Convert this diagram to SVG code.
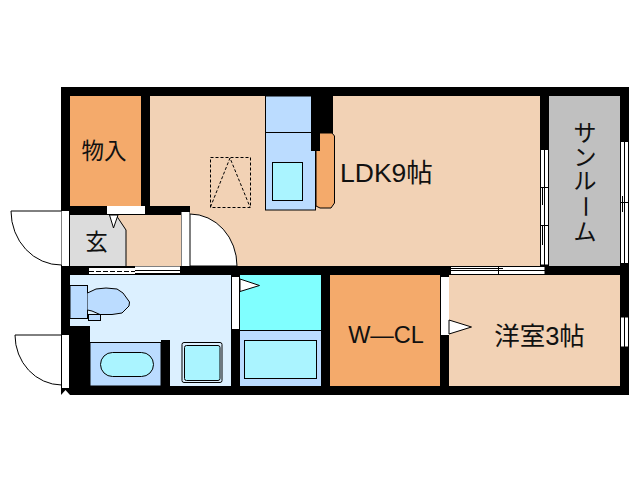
<svg xmlns="http://www.w3.org/2000/svg" width="638" height="480" viewBox="0 0 638 480">
<style>
text{font-family:"Liberation Sans","Noto Sans CJK JP",sans-serif;fill:#111}
.w{fill:#fff;stroke:#000;stroke-width:1}
.t{fill:#fff;stroke:#000;stroke-width:1}
.l{fill:none;stroke:#000;stroke-width:1}
.bl{fill:#bbdcff;stroke:#000;stroke-width:1}
.aq{fill:#aaf4ff;stroke:#000;stroke-width:1}
.d{fill:none;stroke:#000;stroke-width:1;stroke-dasharray:3 2}
</style>
<rect id="building" x="61" y="87" width="568" height="308" fill="#000"/>
<g id="room-storage"><rect x="70" y="96" width="71" height="110" fill="#f4aa6b"/><text x="104" y="159" font-size="22.500" text-anchor="middle">物入</text></g>
<g id="room-ldk">
<path d="M150 96H540V266H190V206H150Z" fill="#f2d2b5"/>
<path d="M190 214A47 52 0 0 1 237 266H190Z" class="w"/>
<rect x="265.500" y="96" width="50" height="114" class="bl"/>
<path d="M265 132.500H316" class="l"/>
<rect x="272.500" y="162.500" width="30" height="38" class="aq"/>
<path d="M316 133H332L334.500 136V203L331 208H320L316 206Z" fill="#f4aa6b" stroke="#000"/>
<path d="M311 96H333V133H320V151H311Z" fill="#000"/>
<rect x="210.500" y="157.500" width="40" height="50" class="d"/>
<path d="M210.500 207L230 158L250 207" class="d"/>
<text x="340" y="182" font-size="26.500">LDK9帖</text>
</g>
<g id="room-entry">
<rect x="70" y="215" width="57" height="51" fill="#dcdcdc"/>
<path d="M116 215H181V266H126V230Z" fill="#f2d2b5"/>
<path d="M116 215L126 230V266" class="l"/>
<rect x="107" y="206" width="38" height="8" fill="#fff"/>
<path d="M109.500 215L113.500 228L118 215Z" class="t"/>
<rect x="181.500" y="212" width="8" height="54" fill="#fff"/>
<text x="96.500" y="250" font-size="22.500" text-anchor="middle">玄</text>
<path d="M61.500 211H11A50 54 0 0 0 61.500 265" class="w"/>
<rect x="62" y="211" width="7" height="55" fill="#fff"/>
<rect x="89" y="268" width="46" height="6" fill="#fff"/>
<rect x="135" y="266.500" width="45" height="7.500" fill="#fff"/>
<path d="M89 271.500H135" fill="none" stroke="#000" stroke-dasharray="5 2"/>
<path d="M135 273.500H180M135 270.500H180" class="l"/>
</g>
<g id="room-bath">
<rect x="70" y="275" width="161" height="111" fill="#dcf0ff"/>
<rect x="70" y="326" width="20" height="60" fill="#000"/>
<rect x="70" y="285.500" width="17.500" height="33" class="bl"/>
<path d="M87.500 293L96 289L106 288L117 289L123 293L129.500 302L129 306L122 313L112 314.500H100L92 311L87.500 310" class="bl"/>
<rect x="88.500" y="314.500" width="12" height="6" class="bl"/>
<rect x="90" y="342.500" width="71" height="43.500" class="bl"/>
<rect x="100.500" y="352.500" width="53" height="24" rx="12" class="aq"/>
<rect x="161" y="340" width="9" height="46" fill="#000"/>
<rect x="182" y="342.500" width="40" height="40" rx="2" class="l"/>
<rect x="184.500" y="345.500" width="35.500" height="35" rx="2" class="aq"/>
<rect x="232" y="277" width="7" height="52" fill="#fff"/>
<path d="M15 335H61.500V385A47 50 0 0 1 15 335Z" class="w"/>
<rect x="62" y="335" width="7" height="53" fill="#fff"/>
<path d="M61 395L65.500 390L70 395Z" fill="#fff"/>
</g>
<g id="room-laundry">
<rect x="240" y="275" width="81" height="55" fill="#80ffff"/>
<rect x="240" y="330.500" width="81" height="55.500" fill="#bbdcff"/>
<path d="M240 330.500H321" class="l"/>
<rect x="244.500" y="340.500" width="72" height="38" class="aq"/>
<path d="M240 279L259.500 285.500L240 291.500Z" class="t"/>
</g>
<g id="room-wcl"><rect x="330" y="275" width="110" height="111" fill="#f4aa6b"/><text x="386" y="342.500" font-size="23.500" text-anchor="middle">W—CL</text></g>
<g id="room-western">
<rect x="449" y="275" width="171" height="111" fill="#f2d2b5"/>
<rect x="441" y="277" width="8" height="58" fill="#fff"/>
<path d="M449 320L471.500 327L449 334Z" class="t"/>
<text x="539.500" y="344.500" font-size="25.500" text-anchor="middle">洋室3帖</text>
<rect x="620.500" y="317" width="8" height="30" class="w"/>
<path d="M624.500 317V347" class="l"/>
</g>
<g id="room-sunroom">
<rect x="549" y="96" width="71" height="170" fill="#c0c0c0"/>
<text font-size="23" text-anchor="middle" x="585" y="141">サ</text>
<text font-size="23" text-anchor="middle" x="585" y="165">ン</text>
<text font-size="23" text-anchor="middle" x="585" y="189">ル</text>
<text font-size="23" text-anchor="middle" x="585" y="215" transform="rotate(90 585 206.500)">ー</text>
<text font-size="23" text-anchor="middle" x="585" y="240">ム</text>
</g>
<g id="connectors">
<rect x="540.500" y="149.500" width="8" height="115.500" class="w"/>
<path d="M544.500 149V265M541 187.500H548M541 225.500H548" class="l"/>
<path d="M542.500 187V205M542.500 225V245" class="l"/>
<rect x="620.500" y="141.500" width="8" height="122" class="w"/>
<path d="M624.500 141V263M621 202.500H628M622.500 196V212" class="l"/>
<rect x="450.500" y="266.500" width="94.500" height="8" class="w"/>
<path d="M450 270.500H545M498.500 267V274M450 268.500H503" class="l"/>
</g>
</svg>
